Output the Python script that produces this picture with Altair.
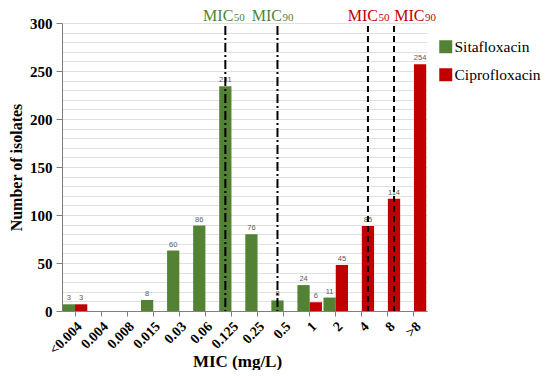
import altair as alt
import pandas as pd

categories = ["<0.004", "0.004", "0.008", "0.015", "0.03", "0.06", "0.125",
              "0.25", "0.5", "1", "2", "4", "8", ">8"]
series_names = ["Sitafloxacin", "Ciprofloxacin"]
# printed labels
sita_labels = [3, None, None, 8, 60, 86, 231, 76, 8, 24, 11, None, None, None]
cipro_labels = [3, None, None, None, None, None, None, None, None, 6, 45, 85, 114, 254]
# bar heights as drawn
sita_heights = [7, 0, 0, 11.5, 63, 89, 234, 80, 11, 27, 14, 0, 0, 0]
cipro_heights = [7, 0, 0, 0, 0, 0, 0, 0, 0, 9, 48, 88.5, 117, 257]

line_categories = ["0.125", "0.5", "4", "8"]
line_series = ["Sitafloxacin", "Sitafloxacin", "Ciprofloxacin", "Ciprofloxacin"]
line_subs = ["50", "90", "50", "90"]
line_top = 297

y_tick_values = list(range(0, 301, 10))

colors = ["#548235", "#C00000"]

rows = []
for s, labs, hs in [("Sitafloxacin", sita_labels, sita_heights),
                    ("Ciprofloxacin", cipro_labels, cipro_heights)]:
    for c, l, h in zip(categories, labs, hs):
        if l is not None:
            rows.append({"category": c, "series": s, "label": l, "height": h})
df = pd.DataFrame(rows)

lines_df = pd.DataFrame({"category": line_categories, "series": line_series,
                         "sub": line_subs, "top": [line_top] * 4, "bottom": [0] * 4})

SERIF = "Liberation Serif"

x_scale = alt.Scale(domain=categories, paddingInner=0.06, paddingOuter=0.03)
x_axis = alt.Axis(title="MIC (mg/L)", labelAngle=-45, labelFont=SERIF,
                  labelFontWeight="bold", labelFontSize=14, labelColor="black",
                  labelPadding=3, labelOverlap=False,
                  titleFont=SERIF, titleFontWeight="bold",
                  titleFontSize=17, titleColor="black",
                  titleBaseline="alphabetic", titleY=55, titleX=175,
                  domainColor="#7f7f7f", tickColor="#7f7f7f", tickSize=5,
                  grid=False)
y_scale = alt.Scale(domain=[0, 300], nice=False, zero=True)
y_axis = alt.Axis(title="Number of isolates", values=y_tick_values,
                  labelExpr="datum.value % 50 === 0 ? datum.label : ''",
                  labelOverlap=False,
                  tickOpacity={"condition": {"test": "datum.value % 50 === 0", "value": 1}, "value": 0},
                  labelFont=SERIF, labelFontWeight="bold", labelFontSize=15,
                  labelColor="black", labelPadding=4, tickSize=6,
                  tickColor="#7f7f7f", domainColor="#7f7f7f",
                  gridColor="#e0e0e0", gridWidth=1,
                  titleFont=SERIF, titleFontWeight="bold", titleFontSize=16,
                  titleColor="black", titlePadding=5)


def xe():
    return alt.X("category:N", sort=categories, scale=x_scale, axis=x_axis)


def xoe():
    return alt.XOffset("series:N", scale=alt.Scale(domain=series_names, paddingInner=0))


color_enc = alt.Color("series:N", scale=alt.Scale(domain=series_names, range=colors),
                      legend=alt.Legend(title=None, orient="none", legendX=376, legendY=16,
                                        labelFont=SERIF, labelFontSize=15.5, labelColor="black",
                                        symbolType="square", symbolSize=169,
                                        symbolStrokeWidth=0, symbolOpacity=1,
                                        rowPadding=11, labelOffset=1, padding=0))

bars = alt.Chart(df).mark_bar().encode(
    x=xe(), xOffset=xoe(),
    y=alt.Y("height:Q", scale=y_scale, axis=y_axis), color=color_enc)

labels = alt.Chart(df).mark_text(dy=-2, baseline="bottom", fontSize=7.5,
                                 color="#595959", font="Liberation Sans").encode(
    x=xe(), xOffset=xoe(),
    y=alt.Y("height:Q", scale=y_scale, axis=y_axis), text="label:Q")

green_lines = alt.Chart(lines_df).transform_filter(
    alt.datum.series == "Sitafloxacin").mark_rule(
    strokeDash=[9, 3, 2, 3], strokeWidth=2, color="black").encode(
    x=xe(), xOffset=xoe(),
    y=alt.Y("top:Q", scale=y_scale, axis=y_axis), y2="bottom:Q")

red_lines = alt.Chart(lines_df).transform_filter(
    alt.datum.series == "Ciprofloxacin").mark_rule(
    strokeDash=[6, 4], strokeWidth=2, color="black").encode(
    x=xe(), xOffset=xoe(),
    y=alt.Y("top:Q", scale=y_scale, axis=y_axis), y2="bottom:Q")

layers = [bars, labels, green_lines, red_lines]

# MIC annotations above the lines
split_dx = [8, 4.5, 10, 30.5]
for i, (cat, ser, sub) in enumerate(zip(line_categories, line_series, line_subs)):
    col = colors[series_names.index(ser)]
    sub_df = lines_df.iloc[[i]]
    base = alt.Chart(sub_df).encode(x=xe(), xOffset=xoe(), y=alt.value(-2))
    layers.append(base.mark_text(align="right", baseline="alphabetic", dx=split_dx[i],
                                 font=SERIF, fontSize=16, color=col).encode(text=alt.value("MIC")))
    layers.append(base.mark_text(align="left", baseline="alphabetic", dx=split_dx[i] + 0.5,
                                 font=SERIF, fontSize=11, color=col).encode(text="sub:N"))

chart = alt.layer(*layers).properties(
    width=365, height=288,
    autosize=alt.AutoSizeParams(type="none"),
    padding={"left": 54, "top": 15, "right": 115, "bottom": 59},
).configure_view(stroke=None)

chart.save("out.html", embed_options={"renderer": "svg", "actions": False})
